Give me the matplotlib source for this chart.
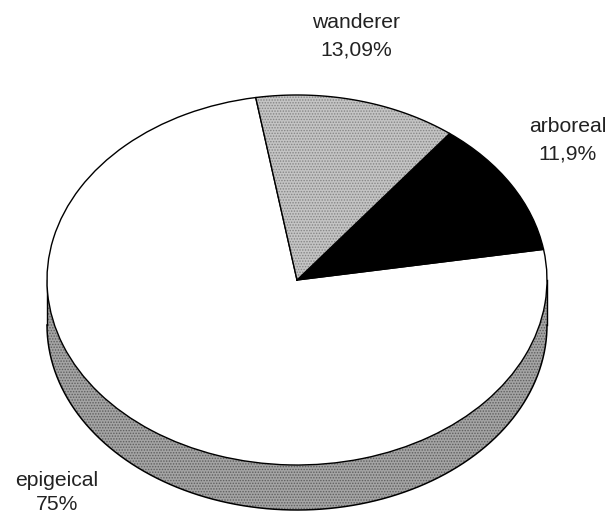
import numpy as np
import matplotlib
matplotlib.use("Agg")
import matplotlib.pyplot as plt

categories = ["epigeical", "arboreal", "wanderer"]
values = [75, 11.9, 13.09]
value_labels = ["75%", "11,9%", "13,09%"]

W, H = 613, 515
CX, CY, RX, RY, DEPTH = 297, 280, 250, 185, 45

plt.rcParams["font.family"] = ["Liberation Sans", "DejaVu Sans"]
plt.rcParams["hatch.linewidth"] = 0.7

fig = plt.figure(figsize=(W / 100, H / 100), dpi=100)
ax = fig.add_axes([0, 0, 1, 1])


def px(x, y):
    return (x - CX) / RX, (CY - y) / RY


d = DEPTH / RY
t = np.linspace(np.pi, 2 * np.pi, 400)
xs, ys = np.cos(t), np.sin(t)
ax.fill_between(xs, ys, ys - d, facecolor="#a4a4a4", edgecolor="#5e5e5e",
                hatch="......", linewidth=0, zorder=1)
ax.plot(xs, ys - d, color="black", lw=1.1, zorder=2)
ax.plot([-1, -1], [0, -d], color="black", lw=1.0, zorder=2)
ax.plot([1, 1], [0, -d], color="black", lw=1.0, zorder=2)

wedges, _ = ax.pie(values, startangle=99.5, radius=1,
                   colors=["white", "black", "#c4c4c4"],
                   wedgeprops=dict(edgecolor="black", linewidth=1.0, zorder=3))
wedges[2].set_hatch("......")
wedges[2].set_edgecolor("#858585")
wedges[2].set_linewidth(0)

# outline around the hatched wedge
a = np.radians(np.linspace(wedges[2].theta1, wedges[2].theta2, 100))
ax.plot(np.r_[0, np.cos(a), 0], np.r_[0, np.sin(a), 0], color="black", lw=1.0, zorder=4)

ax.set_aspect("auto")
ax.set_xlim(px(0, 0)[0], px(W, 0)[0])
ax.set_ylim(px(0, H)[1], px(0, 0)[1])
ax.axis("off")

label_pos = {"wanderer": (356, 22, 50), "arboreal": (568, 127, 154), "epigeical": (57, 480, 505)}
for cat, val in zip(categories, value_labels):
    x, y1, y2 = label_pos[cat]
    ax.text(*px(x, y1), cat, ha="center", va="center", fontsize=15.2, color="#222222", zorder=5)
    ax.text(*px(x, y2), val, ha="center", va="center", fontsize=15.2, color="#222222", zorder=5)

fig.savefig("out.png", dpi=100, facecolor="white")
